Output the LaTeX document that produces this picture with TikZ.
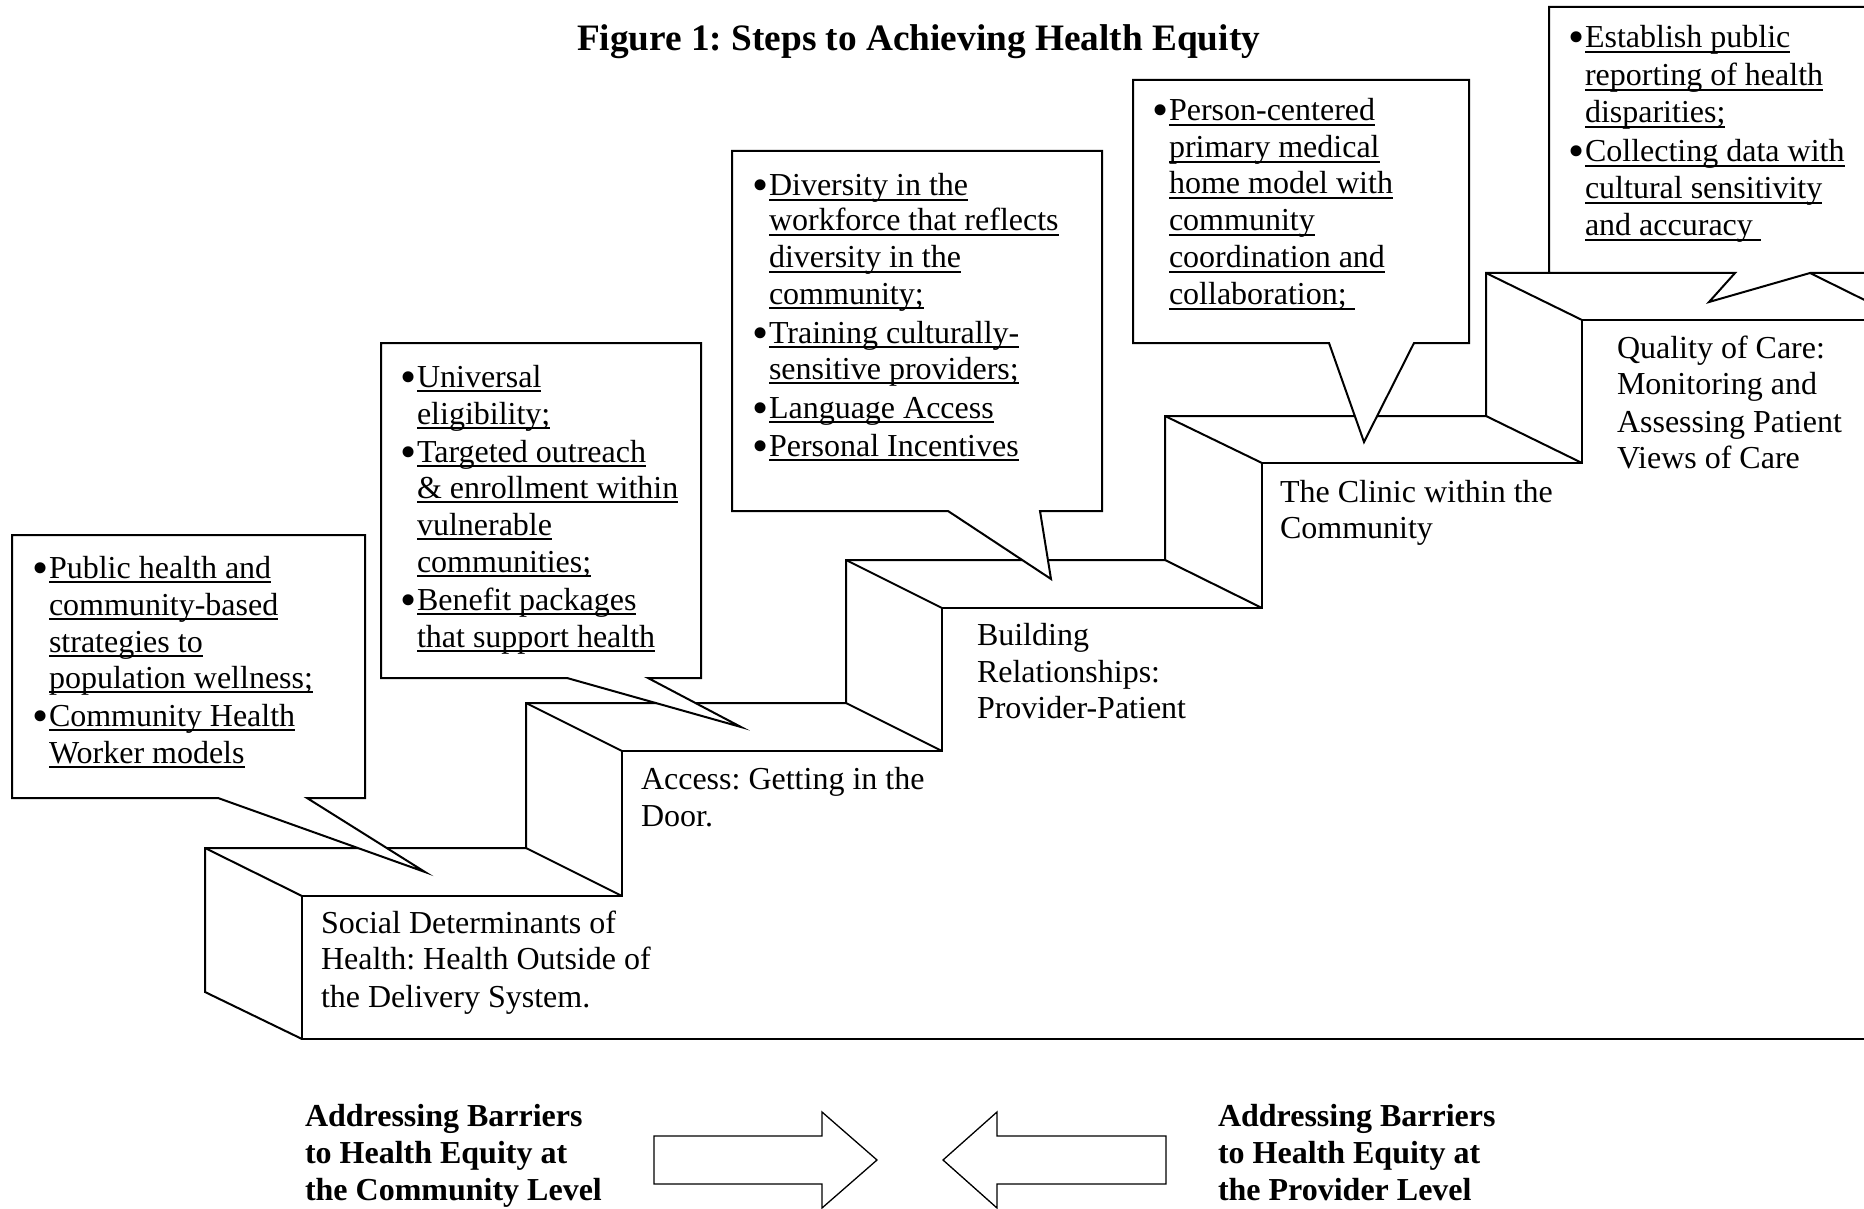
\documentclass[tikz,border=0pt]{standalone}
\usepackage{fontspec}
\setmainfont{Liberation Serif}
\frenchspacing
\newcommand\Ul[1]{\setbox0\hbox{#1}\rlap{\rule[-5pt]{\wd0}{2pt}}\box0}
\newcommand\Ln[4]{\node[txt] (#1) at (#2,#3) {#4};}
\newcommand\Bu[3]{\node[txt] (#1) at (#2,#3) {\smash{\raisebox{-5pt}{\fontsize{46}{46}\selectfont\textbullet}}};}
\newcommand\Bl[4]{\node[bld] (#1) at (#2,#3) {#4};}
\begin{document}
\begin{tikzpicture}[x=1pt,y=-1pt,
  stair/.style={draw=black, fill=white, line width=2pt},
  edge/.style={draw=black, line width=2pt},
  callout/.style={draw=black, fill=white, line width=2pt},
  txt/.style={anchor=base west, inner sep=0pt, outer sep=0pt, font=\fontsize{32}{37}\selectfont},
  bld/.style={anchor=base west, inner sep=0pt, outer sep=0pt, font=\fontsize{32}{37}\selectfont\bfseries},
  ttl/.style={anchor=base west, inner sep=0pt, outer sep=0pt, font=\fontsize{37.3}{44}\selectfont\bfseries},
  arr/.style={draw=black, fill=white, line width=1.3pt}]
\path[use as bounding box] (0,0) rectangle (1864,1209);
\begin{scope}
\clip (0,0) rectangle (1864,1209);
% staircase front face
\draw[stair] (302,1039) -- (302,896) -- (622,896) -- (622,751) -- (942,751) -- (942,608)
  -- (1262,608) -- (1262,463) -- (1582,463) -- (1582,320) -- (1910,320) -- (1910,1039) -- cycle;
% back outline
\draw[edge] (302,1039) -- (205,992) -- (205,848) -- (526,848) -- (526,703) -- (846,703)
  -- (846,560) -- (1165,560) -- (1165,416) -- (1486,416) -- (1486,273) -- (1810,273) -- (1907,321);
% depth edges
\draw[edge] (205,848) -- (302,896);
\draw[edge] (526,848) -- (622,896);
\draw[edge] (526,703) -- (622,751);
\draw[edge] (846,703) -- (942,751);
\draw[edge] (846,560) -- (942,608);
\draw[edge] (1165,560) -- (1262,608);
\draw[edge] (1165,416) -- (1262,463);
\draw[edge] (1486,416) -- (1582,463);
\draw[edge] (1486,273) -- (1582,320);
% callouts
\draw[callout] (12,535) -- (365,535) -- (365,798) -- (307,798) -- (425,872) -- (218,798) -- (12,798) -- cycle;
\draw[callout] (381,343) -- (701,343) -- (701,678) -- (648,678) -- (741,727) -- (567,678) -- (381,678) -- cycle;
\draw[callout] (732,151) -- (1102,151) -- (1102,511) -- (1040,511) -- (1051,579) -- (948,511) -- (732,511) -- cycle;
\draw[callout] (1133,80) -- (1469,80) -- (1469,343) -- (1414,343) -- (1364,442) -- (1329,343) -- (1133,343) -- cycle;
\draw[callout] (1549,7) -- (1900,7) -- (1900,273) -- (1810,273) -- (1709,302) -- (1735,273) -- (1549,273) -- cycle;
% arrows
\draw[arr] (654,1136) -- (822,1136) -- (822,1112) -- (877,1160) -- (822,1208) -- (822,1184) -- (654,1184) -- cycle;
\draw[arr] (1166,1136) -- (997,1136) -- (997,1112) -- (943,1160) -- (997,1208) -- (997,1184) -- (1166,1184) -- cycle;
\end{scope}
% title
\node[ttl] (title) at (577,51) {Figure 1: Steps to Achieving Health Equity};
% box A
\Bu{ab1}{32}{578}\Ln{a1}{49}{578}{\Ul{Public health and}}
\Ln{a2}{49}{615}{\Ul{community-based}}
\Ln{a3}{49}{652}{\Ul{strategies to}}
\Ln{a4}{49}{688}{\Ul{population wellness;}}
\Bu{ab5}{32}{726}\Ln{a5}{49}{726}{\Ul{Community Health}}
\Ln{a6}{49}{763}{\Ul{Worker models}}
% box B
\Bu{bb1}{400}{387}\Ln{b1}{417}{387}{\Ul{Universal}}
\Ln{b2}{417}{424}{\Ul{eligibility;}}
\Bu{bb3}{400}{462}\Ln{b3}{417}{462}{\Ul{Targeted outreach}}
\Ln{b4}{417}{498}{\Ul{\& enrollment within}}
\Ln{b5}{417}{535}{\Ul{vulnerable}}
\Ln{b6}{417}{572}{\Ul{communities;}}
\Bu{bb7}{400}{610}\Ln{b7}{417}{610}{\Ul{Benefit packages}}
\Ln{b8}{417}{647}{\Ul{that support health}}
% box C
\Bu{cb1}{752}{196}\Ln{c1}{769}{196}{\Ul{Diversity in the}}
\Ln{c2}{769}{231}{\Ul{workforce that reflects}}
\Ln{c3}{769}{268}{\Ul{diversity in the}}
\Ln{c4}{769}{304}{\Ul{community;}}
\Bu{cb5}{752}{343}\Ln{c5}{769}{343}{\Ul{Training culturally-}}
\Ln{c6}{769}{379}{\Ul{sensitive providers;}}
\Bu{cb7}{752}{418}\Ln{c7}{769}{418}{\Ul{Language Access}}
\Bu{cb8}{752}{456}\Ln{c8}{769}{456}{\Ul{Personal Incentives}}
% box D
\Bu{db1}{1152}{121}\Ln{d1}{1169}{121}{\Ul{Person-centered}}
\Ln{d2}{1169}{158}{\Ul{primary medical}}
\Ln{d3}{1169}{194}{\Ul{home model with}}
\Ln{d4}{1169}{231}{\Ul{community}}
\Ln{d5}{1169}{268}{\Ul{coordination and}}
\Ln{d6}{1169}{305}{\Ul{collaboration;\ }}
% box E
\Bu{eb1}{1568}{48}\Ln{e1}{1585}{48}{\Ul{Establish public}}
\Ln{e2}{1585}{86}{\Ul{reporting of health}}
\Ln{e3}{1585}{123}{\Ul{disparities;}}
\Bu{eb4}{1568}{162}\Ln{e4}{1585}{162}{\Ul{Collecting data with}}
\Ln{e5}{1585}{199}{\Ul{cultural sensitivity}}
\Ln{e6}{1585}{236}{\Ul{and accuracy\ }}
% step labels
\Ln{s1}{321}{933}{Social Determinants of}
\Ln{s2}{321}{969}{Health: Health Outside of}
\Ln{s3}{321}{1007}{the Delivery System.}
\Ln{g1}{641}{789}{Access: Getting in the}
\Ln{g2}{641}{826}{Door.}
\Ln{r1}{977}{645}{Building}
\Ln{r2}{977}{682}{Relationships:}
\Ln{r3}{977}{718}{Provider-Patient}
\Ln{k1}{1280}{502}{The Clinic within the}
\Ln{k2}{1280}{538}{Community}
\Ln{q1}{1617}{358}{Quality of Care:}
\Ln{q2}{1617}{394}{Monitoring and}
\Ln{q3}{1617}{432}{Assessing Patient}
\Ln{q4}{1617}{468}{Views of Care}
% bottom labels
\Bl{l1}{305}{1126}{Addressing Barriers}
\Bl{l2}{305}{1163}{to Health Equity at}
\Bl{l3}{305}{1200}{the Community Level}
\Bl{p1}{1218}{1126}{Addressing Barriers}
\Bl{p2}{1218}{1163}{to Health Equity at}
\Bl{p3}{1218}{1200}{the Provider Level}
\end{tikzpicture}
\end{document}
